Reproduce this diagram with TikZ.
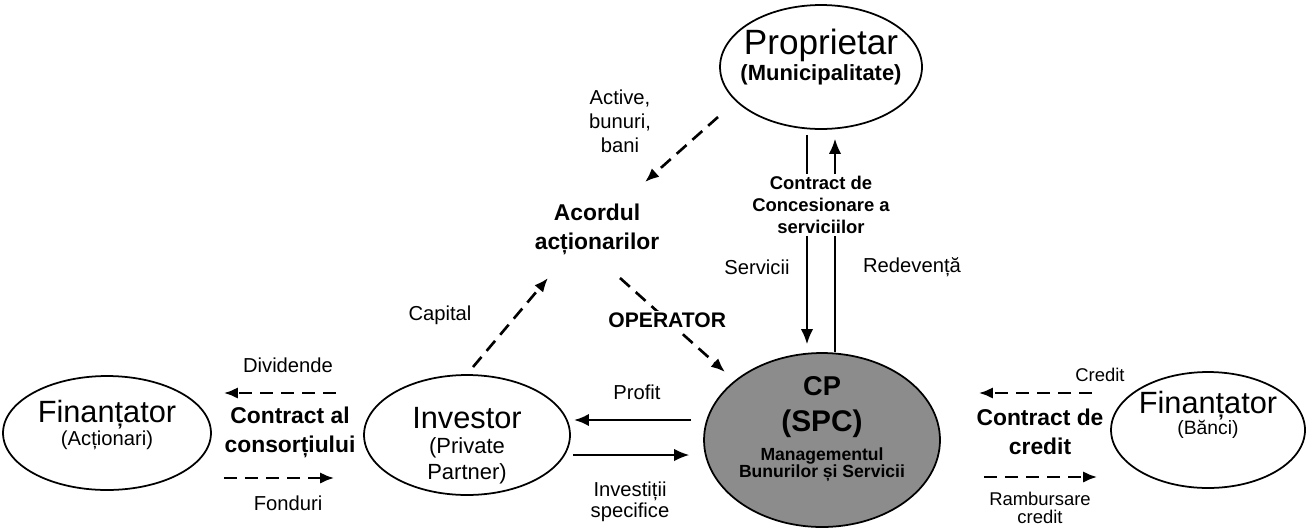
\documentclass[tikz,border=0pt]{standalone}
\usepackage{fontspec}
\setmainfont{Liberation Sans}
\usetikzlibrary{calc}
\usetikzlibrary{positioning}
\usetikzlibrary{arrows.meta}
\usetikzlibrary{shapes.geometric}

\begin{document}
\begin{tikzpicture}[x=0.02cm, y=-0.02cm,
        party/.style={draw, ellipse, line width=1pt, inner sep=0pt},
        pname/.style={align=center, inner sep=0pt},
        lbl/.style={font=\fontsize{11.5}{13.5}\selectfont, align=center, inner sep=1pt},
        slbl/.style={font=\fontsize{10.5}{11.5}\selectfont, align=center, inner sep=1pt},
        blbl/.style={font=\bfseries\fontsize{13}{16.5}\selectfont, align=center, inner sep=1pt},
        flow/.style={line width=1.5pt, dash pattern=on 7.5pt off 4.5pt, -{Latex[length=8pt,width=6.5pt]}},
        sflow/.style={-{Latex[length=8.5pt,width=7pt]}}]

        \useasboundingbox (0,0) rectangle (1310,528);

        \coordinate (divrow) at (0,393);
        \coordinate (fondrow) at (0,478);
        \coordinate (profrow) at (0,420);
        \coordinate (invrow) at (0,455);
        \coordinate (credrow) at (0,393);
        \coordinate (rambrow) at (0,477);
        \coordinate (servcol) at (807,0);
        \coordinate (redcol) at (835,0);

        \node[party, minimum width=4.04cm, minimum height=2.48cm] (prop) at (821,67) {};
        \node[party, minimum width=4.16cm, minimum height=2.28cm] (fa) at (107,433) {};
        \node[party, minimum width=4.12cm, minimum height=2.4cm] (inv) at (467,435) {};
        \node[party, minimum width=4.72cm, minimum height=3.48cm, fill=black!45] (cp) at (822,440) {};
        \node[party, minimum width=3.88cm, minimum height=2.32cm] (fb) at (1208,430) {};

        \node[pname, font=\bfseries\fontsize{12.5}{14.8}\selectfont] (propname) at (821,57)
            {{\mdseries\fontsize{20}{22}\selectfont Proprietar}\\(Municipalitate)};
        \node[pname, font=\fontsize{11.5}{12.6}\selectfont] (faname) at (107,425)
            {{\fontsize{17.5}{20}\selectfont Finanțator}\\(Acționari)};
        \node[pname, font=\fontsize{12.5}{15}\selectfont] (invname) at (467,446)
            {{\fontsize{17.5}{20}\selectfont Investor}\\[-1pt](Private\\Partner)};
        \node[pname, font=\bfseries\fontsize{10}{9.5}\selectfont] (cpname) at (822,429)
            {{\fontsize{15.5}{17}\selectfont CP}\\[7pt]{\fontsize{17}{19}\selectfont (SPC)}\\[5pt]Managementul\\Bunurilor și Servicii};
        \node[pname, font=\fontsize{11}{12}\selectfont] (fbname) at (1208,415)
            {{\fontsize{17.5}{20}\selectfont Finanțator}\\(Bănci)};

        \node[blbl] (acord) at (597,229) {Acordul\\acționarilor};
        \node[lbl, font=\fontsize{11.5}{13.6}\selectfont] (activ) at (620,121) {Active,\\bunuri,\\bani};
        \node[slbl, font=\bfseries\fontsize{10.5}{12.5}\selectfont] (concesiune) at (821,205) {Contract de\\Concesionare a\\serviciilor};
        \node[lbl] (serv) at (757,267) {Servicii};
        \node[lbl] (redev) at (912,267) {Redevență};
        \node[lbl] (capit) at (440,315) {Capital};

        \node[lbl] (divid) at (288,365) {Dividende};
        \node[blbl] (consort) at (290,432) {Contract al\\consorțiului};
        \node[lbl] (fond) at (288,503) {Fonduri};

        \node[lbl] (prof) at (637,392) {Profit};
        \node[lbl, font=\fontsize{11.5}{12}\selectfont] (invsp) at (630,502) {Investiții\\specifice};

        \node[slbl] (cred) at (1100,375) {Credit};
        \node[blbl] (ccred) at (1040,432) {Contract de\\credit};
        \node[slbl, font=\fontsize{10.5}{10.5}\selectfont] (ramb) at (1040,508) {Rambursare\\credit};

        \path[draw, flow] ([shift={(-103,50)}]prop.center) -- ([shift={(48,-47)}]acord.center);
        \path[draw, flow] ([shift={(6,-68)}]inv.center) -- ([shift={(-49,49)}]acord.center);
        \path[draw, flow] ([shift={(23,49)}]acord.center) -- ([shift={(-97,-68)}]cp.center)
            node[pos=0.45, fill=white, inner sep=1pt, font=\bfseries\fontsize{12}{14}\selectfont] (oper) {OPERATOR};

        \path[draw, line width=1pt, shorten <=0.1cm] (prop.south -| servcol) -- (concesiune.north -| servcol);
        \path[draw, line width=1pt, sflow, shorten >=0.16cm] (concesiune.south -| servcol) -- (cp.north -| servcol);
        \path[draw, line width=1pt, sflow, shorten >=0.18cm] (concesiune.north -| redcol) -- (prop.south -| redcol);
        \path[draw, line width=1pt] (cp.north -| redcol) -- (concesiune.south -| redcol);

        \path[draw, flow, shorten <=0.54cm, shorten >=0.24cm] (inv.west |- divrow) -- (fa.east |- divrow);
        \path[draw, flow, shorten <=0.24cm, shorten >=0.58cm] (fa.east |- fondrow) -- (inv.west |- fondrow);

        \path[draw, line width=1.6pt, sflow, shorten <=0.24cm, shorten >=0.06cm] (cp.west |- profrow) -- (inv.east |- profrow);
        \path[draw, line width=0.9pt, sflow, shorten <=0.04cm, shorten >=0.28cm] (inv.east |- invrow) -- (cp.west |- invrow);

        \path[draw, flow, shorten <=0.36cm, shorten >=0.76cm] (fb.west |- credrow) -- (cp.east |- credrow);
        \path[draw, flow, shorten <=0.86cm, shorten >=0.26cm] (cp.east |- rambrow) -- (fb.west |- rambrow);

    \end{tikzpicture}
\end{document}
